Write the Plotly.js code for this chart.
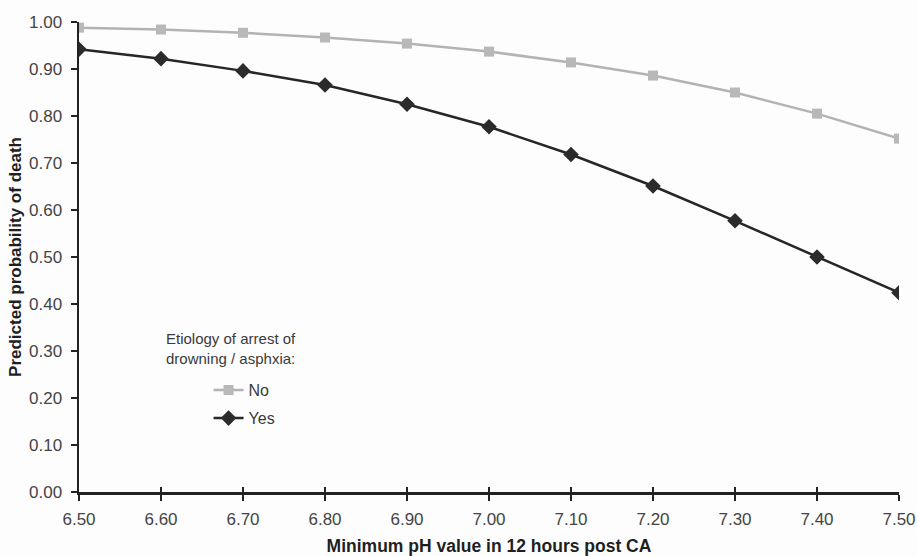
<!DOCTYPE html>
<html>
<head>
<meta charset="utf-8">
<script src="https://cdn.plot.ly/plotly-3.0.1.min.js"></script>
<style>html,body{margin:0;padding:0;background:#fdfdfd;}#chart{width:917px;height:556px;}</style>
</head>
<body>
<div id="chart"></div>
<script>
const phValues = [6.50, 6.60, 6.70, 6.80, 6.90, 7.00, 7.10, 7.20, 7.30, 7.40, 7.50];
const probNo  = [0.988, 0.984, 0.977, 0.967, 0.954, 0.937, 0.914, 0.886, 0.850, 0.805, 0.752];
const probYes = [0.942, 0.922, 0.896, 0.866, 0.825, 0.777, 0.718, 0.651, 0.577, 0.500, 0.424];
const seriesNames = ["No", "Yes"];
const legendTitle = "Etiology of arrest of<br>drowning / asphxia:";
const xTitle = "Minimum pH value in 12 hours post CA";
const yTitle = "Predicted probability of death";

const FONT = "Liberation Sans, Arial, sans-serif";

const traces = [
  {x: phValues, y: probNo, name: seriesNames[0], mode: "lines+markers", legend: "legend",
   line: {color: "#b3b3b3", width: 2.5},
   marker: {symbol: "square", size: 10, color: "#b8b8b8"}},
  {x: phValues, y: probYes, name: seriesNames[1], mode: "lines+markers", legend: "legend2",
   line: {color: "#262626", width: 2.5},
   marker: {symbol: "diamond", size: 12, color: "#2b2b2b"}},
  {x: phValues, y: probYes, xaxis: "x2", showlegend: false, hoverinfo: "skip",
   mode: "markers", marker: {opacity: 0}}
];

const legendCommon = {
  x: 0.158, xanchor: "left", yanchor: "middle",
  bgcolor: "rgba(0,0,0,0)", font: {size: 16, color: "#3a3a3a", family: FONT},
  itemwidth: 30
};

const layout = {
  width: 917, height: 556,
  margin: {l: 79, r: 18, t: 22, b: 64},
  paper_bgcolor: "#fdfdfd", plot_bgcolor: "#fdfdfd",
  font: {family: FONT, color: "#333"},
  xaxis: {
    range: [6.5, 7.5], tickvals: phValues, tickformat: ".2f",
    ticks: "outside", ticklen: 6, tickwidth: 2, tickcolor: "#222",
    showline: true, linecolor: "#222", linewidth: 2.5,
    showgrid: false, zeroline: false, ticklabelstandoff: 4,
    tickfont: {size: 17, color: "#444"},
    title: {text: xTitle, font: {size: 17.5, color: "#1f1f1f", family: FONT, weight: "bold"}, standoff: 12}
  },
  xaxis2: {
    overlaying: "x", matches: "x", range: [6.5, 7.5], tickvals: phValues,
    ticks: "inside", ticklen: 5, tickwidth: 2, tickcolor: "#222",
    showticklabels: false, showline: false, showgrid: false, zeroline: false
  },
  yaxis: {
    range: [0, 1.0], dtick: 0.1, tick0: 0, tickformat: ".2f",
    ticks: "outside", ticklen: 6, tickwidth: 2, tickcolor: "#222",
    showline: true, linecolor: "#222", linewidth: 2.5,
    showgrid: false, zeroline: false, ticklabelstandoff: 5,
    tickfont: {size: 17, color: "#444"},
    title: {text: yTitle, font: {size: 17, color: "#1f1f1f", family: FONT, weight: "bold"}, standoff: 3}
  },
  showlegend: true,
  legend: Object.assign({}, legendCommon, {y: 0.217}),
  legend2: Object.assign({}, legendCommon, {y: 0.157}),
  annotations: [
    {text: legendTitle, xref: "paper", yref: "paper", x: 0.104, y: 0.305,
     xanchor: "left", yanchor: "middle", align: "left", showarrow: false,
     font: {size: 15, color: "#3a3a3a"}}
  ]
};

Plotly.newPlot("chart", traces, layout, {displayModeBar: false, staticPlot: true});
</script>
</body>
</html>
